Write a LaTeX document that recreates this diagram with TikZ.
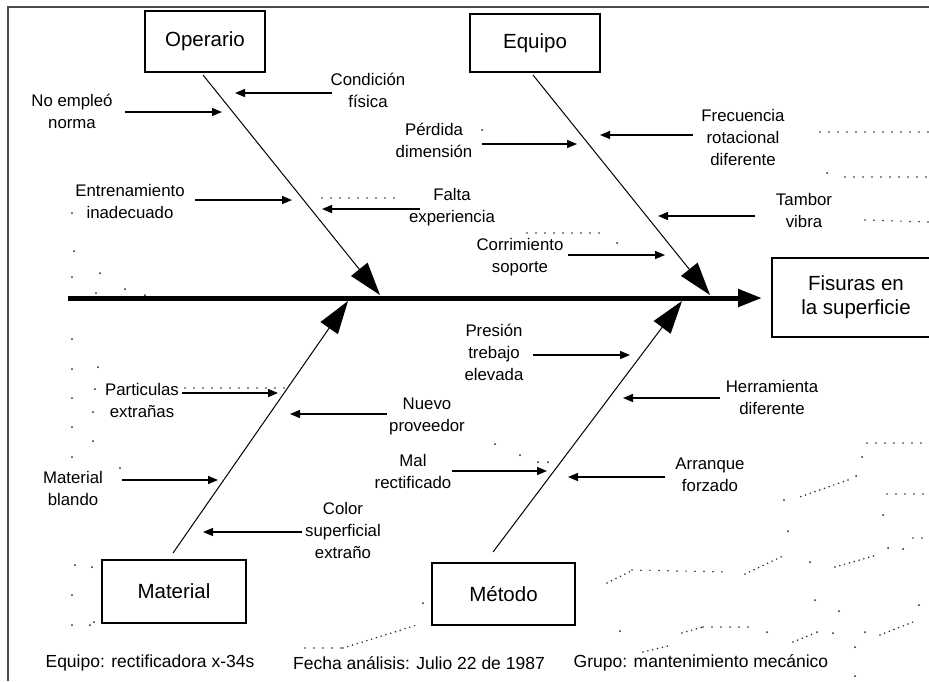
\documentclass[tikz,border=0pt]{standalone}
\usepackage{fontspec}
\setmainfont{Liberation Sans}
\usetikzlibrary{arrows.meta}

\begin{document}
\begin{tikzpicture}[x=1pt,y=-1pt,
  causebox/.style={draw, line width=1.6pt, inner sep=0pt,
    font=\fontsize{20.5}{24}\selectfont},
  cause/.style={align=center, inner sep=0pt,
    font=\fontsize{16.8}{22}\selectfont},
  footnote/.style={inner sep=0pt, font=\fontsize{17.5}{21}\selectfont},
  bone/.style={line width=1pt, -{Triangle[length=33pt,width=21pt]}},
  spine/.style={line width=5pt, -{Triangle[length=24pt,width=17pt]}},
  feed/.style={line width=1.3pt, -{Triangle[length=10pt,width=8pt]}},
  frame/.style={line width=1.5pt, draw=black!70},
  speck/.style={fill=black!85},
  specks/.style={draw=black!85, line width=1.7pt, line cap=round,
    dash pattern=on 0pt off 9pt},
  densespecks/.style={specks, dash pattern=on 0pt off 5pt},
]
\useasboundingbox (0,0) rectangle (929,681);
\fill[white] (0,0) rectangle (929,681);

% page frame
\draw[frame] (8,681) -- (8,7) -- (929,7);

% main categories and effect
\node[causebox, minimum width=120pt, minimum height=61pt] (op) at (205,41.5) {Operario};
\node[causebox, minimum width=130pt, minimum height=58pt] (eq) at (535,43) {Equipo};
\node[causebox, minimum width=144pt, minimum height=63pt] (ma) at (174,591.5) {Material};
\node[causebox, minimum width=143pt, minimum height=62pt] (me) at (503.5,594) {Método};
\node[causebox, minimum width=168pt, minimum height=79pt, align=center] (ef) at (856,297.5)
  {Fisuras en\\la superficie};

% spine and bones
\coordinate (sp0) at (68,298);
\coordinate (sp1) at (762,298);
\draw[spine] (sp0) -- (sp1);

\coordinate (opS) at (203,75);  \coordinate (opT) at (380,295);
\coordinate (eqS) at (533,75);  \coordinate (eqT) at (710,295);
\coordinate (maS) at (173,553); \coordinate (maT) at (348,301);
\coordinate (meS) at (493,552); \coordinate (meT) at (682,301);
\draw[bone] (opS) -- (opT);
\draw[bone] (eqS) -- (eqT);
\draw[bone] (maS) -- (maT);
\draw[bone] (meS) -- (meT);

% causes
\node[cause] (c1)  at (368,90)  {Condición\\física};
\node[cause] (c2)  at (72,111)  {No empleó\\norma};
\node[cause] (c3)  at (130,201) {Entrenamiento\\inadecuado};
\node[cause] (c4)  at (452,207) {Falta\\experiencia};
\node[cause] (c5)  at (434,140) {Pérdida\\dimensión};
\node[cause] (c6)  at (743,137) {Frecuencia\\rotacional\\diferente};
\node[cause] (c7)  at (804,210) {Tambor\\vibra};
\node[cause] (c8)  at (520,257) {Corrimiento\\soporte};
\node[cause] (c9)  at (494,352) {Presión\\trebajo\\elevada};
\node[cause] (c10) at (772,397) {Herramienta\\diferente};
\node[cause] (c11) at (142,400) {Particulas\\extrañas};
\node[cause] (c12) at (427,416) {Nuevo\\proveedor};
\node[cause] (c13) at (73,488)  {Material\\blando};
\node[cause] (c14) at (413,471) {Mal\\rectificado};
\node[cause] (c15) at (710,475) {Arranque\\forzado};
\node[cause] (c16) at (343,530) {Color\\superficial\\extraño};

% cause arrows
\foreach \n/\xa/\xb/\y in {
  1/332/235/93, 2/125/222/112, 3/195/292/200, 4/420/322/209,
  5/482/577/144, 6/693/600/135, 7/755/658/216, 8/568/665/255,
  9/533/630/355, 10/720/623/398, 11/182/278/393, 12/387/290/414,
  13/122/218/480, 14/452/547/471, 15/665/568/477, 16/302/203/532}{
  \coordinate (f\n a) at (\xa,\y);
  \coordinate (f\n b) at (\xb,\y);
  \draw[feed] (f\n a) -- (f\n b);
}

% footer
\node[footnote] (n1) at (150,663) {Equipo: rectificadora x-34s};
\node[footnote] (n2) at (419,663) {Fecha análisis: Julio 22 de 1987};
\node[footnote] (n3) at (701,663) {Grupo: mantenimiento mecánico};

% scattered specks
\draw[specks] (820,132) -- (929,132);
\draw[specks] (845,177) -- (929,177);
\draw[specks] (865,220) -- (929,222);
\draw[specks] (322,198) -- (395,198);
\draw[specks] (527,233) -- (600,233);
\draw[specks] (185,388) -- (287,388);
\draw[specks] (867,443) -- (929,443);
\draw[specks] (887,494) -- (929,494);
\draw[specks] (913,538) -- (929,538);
\draw[specks] (632,570) -- (730,572);
\draw[specks] (703,627) -- (748,627);
\draw[specks] (305,648) -- (343,648);
\draw[densespecks] (848,480) -- (797,498);
\draw[densespecks] (835,567) -- (877,555);
\draw[densespecks] (745,574) -- (783,556);
\draw[densespecks] (607,583) -- (633,570);
\draw[densespecks] (880,635) -- (913,622);
\draw[densespecks] (793,642) -- (815,633);
\draw[densespecks] (682,633) -- (703,627);
\draw[densespecks] (643,652) -- (672,645);
\draw[densespecks] (343,648) -- (417,625);
\foreach \p in {(827,173),(617,243),(784,500),(862,457),(856,476),(883,515),
  (788,531),(888,548),(903,549),(810,562),(815,600),(839,611),(919,605),
  (865,632),(833,633),(817,632),(855,647),(767,632),(620,631),(855,676),
  (423,603),(482,130),(72,213),(74,251),(72,277),(100,273),(96,293),
  (125,289),(145,295),(72,339),(72,369),(98,367),(72,398),(95,389),
  (93,412),(72,427),(93,441),(72,457),(120,468),(75,565),(92,567),
  (72,595),(72,625),(90,625),(94,622),(495,444),(520,455),(538,462),
  (548,462)}
  \fill[speck] \p circle (1.0);
\end{tikzpicture}
\end{document}
